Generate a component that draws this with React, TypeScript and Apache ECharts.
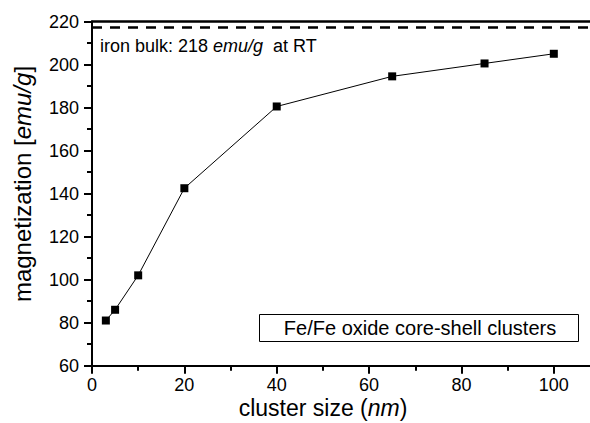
import React, { useEffect, useRef } from "react";
import * as echarts from "echarts";

const clusterSizes = [3, 5, 10, 20, 40, 65, 85, 100];
const magnetization = [81, 86, 102, 142.5, 180.5, 194.5, 200.5, 205];
const bulkLineValue = 217.5;
const yTicks = { min: 60, max: 220, interval: 20 };
const xTicks = { min: 0, max: 110, interval: 20 };

const FONT = "'Liberation Sans', Arial, sans-serif";

export default function App() {
  const ref = useRef<HTMLDivElement>(null);
  useEffect(() => {
    if (!ref.current) return;
    const chart = echarts.init(ref.current, undefined, { renderer: "svg" });
    const axisCommon = {
      axisLine: { show: true, onZero: false, lineStyle: { color: "#000", width: 2 } },
      axisTick: { show: true, inside: false, length: 8, lineStyle: { color: "#000", width: 2 } },
      minorTick: { show: true, splitNumber: 2, length: 5, lineStyle: { color: "#000", width: 2 } },
      splitLine: { show: false },
      minorSplitLine: { show: false },
    };
    chart.setOption({
      animation: false,
      backgroundColor: "#fff",
      grid: { left: 92, top: 21.5, right: 0, bottom: 57.3, containLabel: false },
      xAxis: [
        {
          type: "value",
          min: xTicks.min,
          max: xTicks.max,
          interval: xTicks.interval,
          ...axisCommon,
          axisLabel: {
            show: true,
            margin: 10,
            color: "#000",
            fontSize: 18,
            fontFamily: FONT,
            showMaxLabel: false,
            formatter: (v: number) => (v <= 100 ? String(v) : ""),
          },
        },
        {
          type: "value",
          position: "top",
          min: xTicks.min,
          max: xTicks.max,
          interval: xTicks.interval,
          axisLine: { show: true, onZero: false, lineStyle: { color: "#000", width: 2.5 } },
          axisTick: { show: false },
          axisLabel: { show: false },
          splitLine: { show: false },
        },
      ],
      yAxis: {
        type: "value",
        min: yTicks.min,
        max: yTicks.max,
        interval: yTicks.interval,
        ...axisCommon,
        axisLabel: {
          show: true,
          margin: 13,
          color: "#000",
          fontSize: 18,
          fontFamily: FONT,
        },
      },
      series: [
        {
          type: "line",
          xAxisIndex: 0,
          data: clusterSizes.map((x, i) => [x, magnetization[i]]),
          symbol: "rect",
          symbolSize: 8,
          showSymbol: true,
          itemStyle: { color: "#000" },
          lineStyle: { color: "#000", width: 1 },
          markLine: {
            silent: true,
            symbol: ["none", "none"],
            label: { show: false },
            lineStyle: { color: "#000", width: 2.5, type: [10, 8] },
            data: [{ yAxis: bulkLineValue }],
          },
          z: 3,
        },
      ],
      graphic: [
        {
          type: "text",
          x: 100,
          y: 45.5,
          style: {
            text: "{n|iron bulk: 218 }{i|emu/g}{n|  at RT}",
            verticalAlign: "middle",
            align: "left",
            rich: {
              n: { fontSize: 18, fontFamily: FONT, fill: "#000" },
              i: { fontSize: 18, fontFamily: FONT, fill: "#000", fontStyle: "italic" },
            },
          },
        },
        {
          type: "rect",
          shape: { x: 259.5, y: 314.5, width: 319, height: 27 },
          style: { fill: "#fff", stroke: "#000", lineWidth: 1 },
        },
        {
          type: "text",
          x: 420,
          y: 328,
          style: {
            text: "Fe/Fe oxide core-shell clusters",
            fontSize: 20,
            fontFamily: FONT,
            fill: "#000",
            align: "center",
            verticalAlign: "middle",
          },
        },
        {
          type: "text",
          x: 22.5,
          y: 184,
          rotation: Math.PI / 2,
          style: {
            text: "{n|magnetization [}{i|emu/g}{n|]}",
            align: "center",
            verticalAlign: "middle",
            rich: {
              n: { fontSize: 24, fontFamily: FONT, fill: "#000" },
              i: { fontSize: 24, fontFamily: FONT, fill: "#000", fontStyle: "italic" },
            },
          },
        },
        {
          type: "text",
          x: 323,
          y: 408,
          style: {
            text: "{n|cluster size (}{i|nm}{n|)}",
            align: "center",
            verticalAlign: "middle",
            rich: {
              n: { fontSize: 23, fontFamily: FONT, fill: "#000" },
              i: { fontSize: 23, fontFamily: FONT, fill: "#000", fontStyle: "italic" },
            },
          },
        },
      ],
    });
    return () => chart.dispose();
  }, []);
  return (
    <div style={{ position: "fixed", left: 0, top: 0, width: 590, height: 423, overflow: "hidden", background: "#fff" }}>
      <div ref={ref} style={{ width: 600, height: 423 }} />
    </div>
  );
}
